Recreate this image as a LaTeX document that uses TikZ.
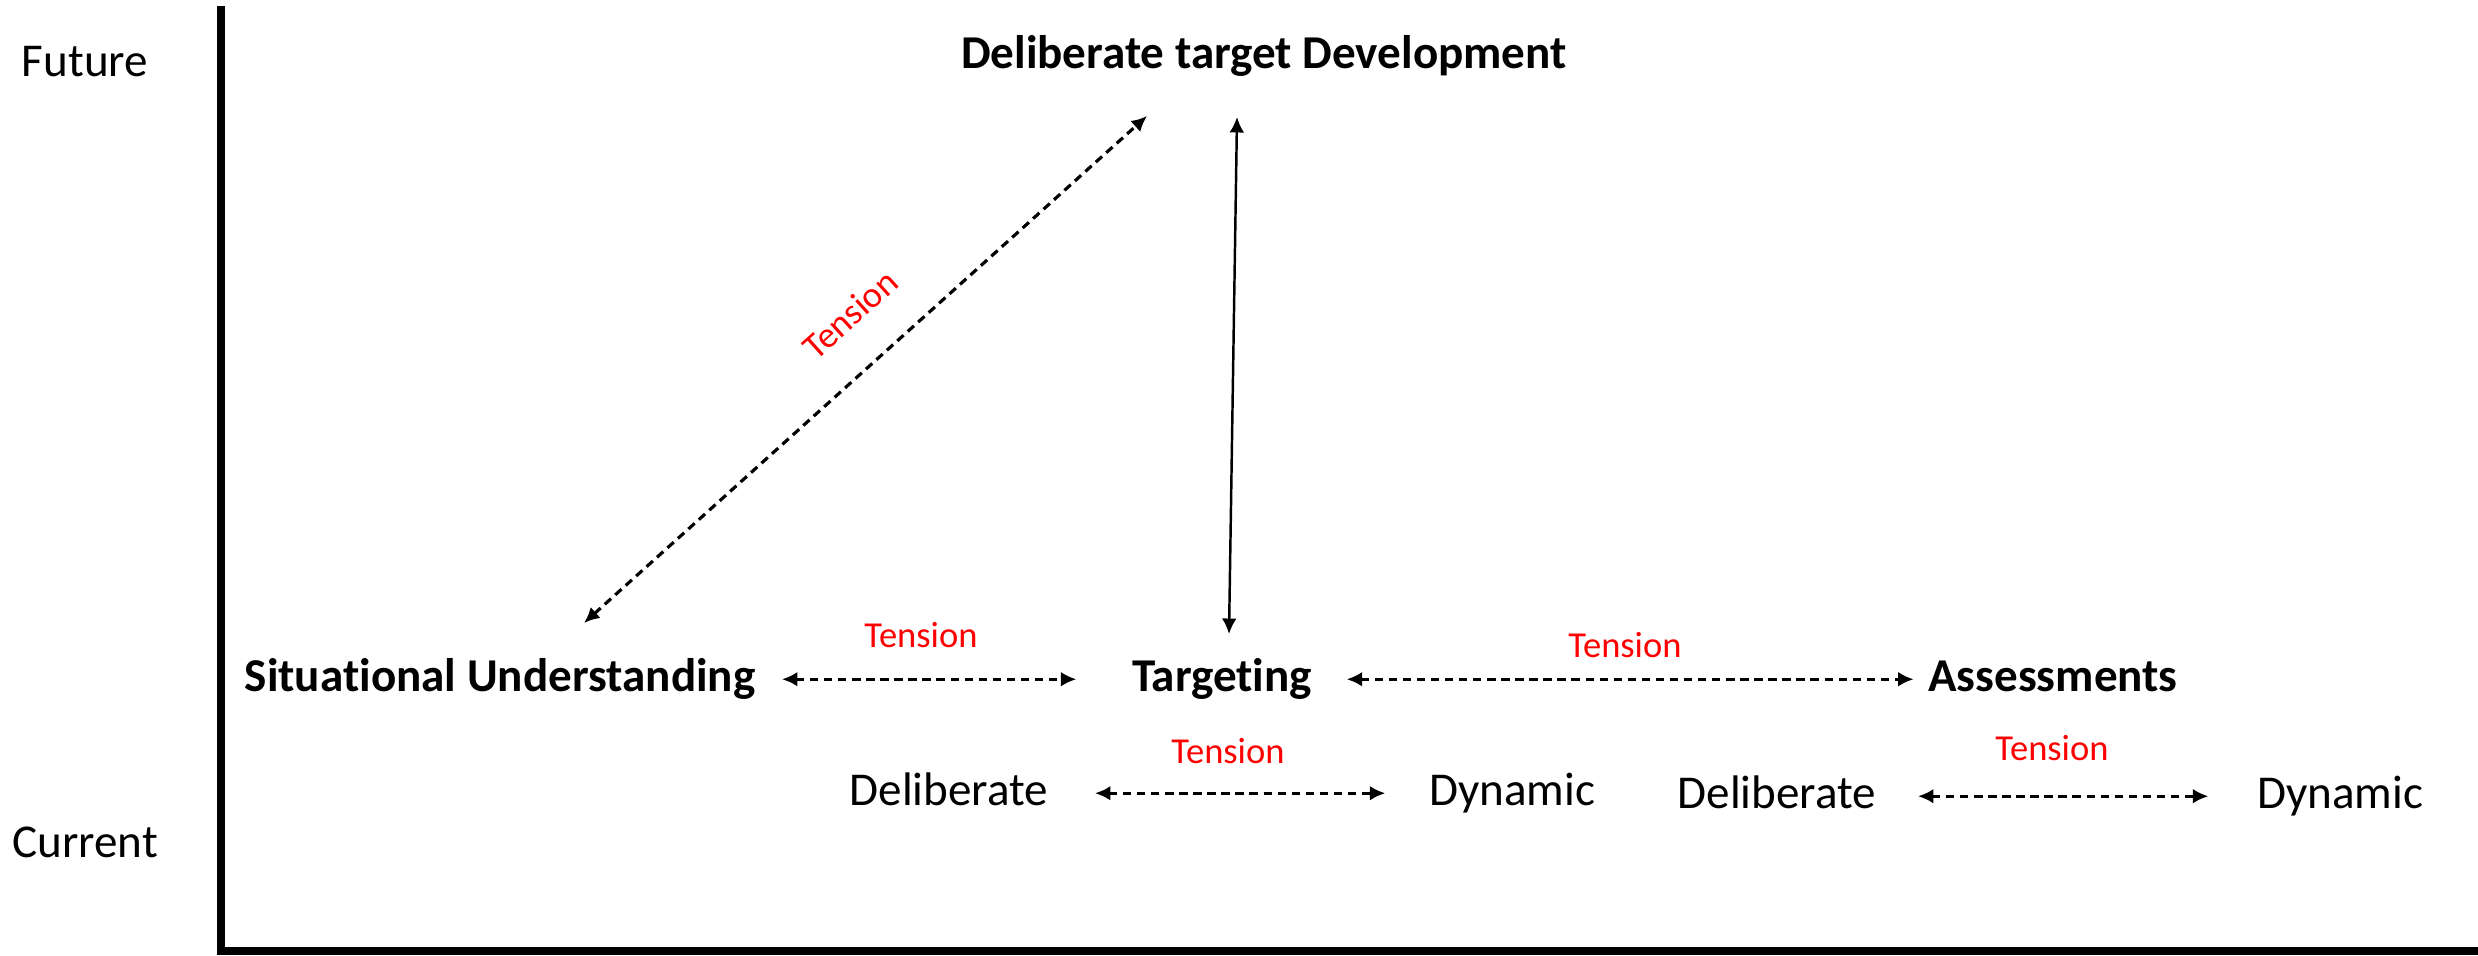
\documentclass[tikz,border=0pt]{standalone}
\usepackage{fontspec}
\setmainfont{Carlito}[Ligatures=NoCommon]
\usetikzlibrary{arrows.meta}

\tikzset{
  timelbl/.style={font=\fontsize{13.4}{16}\selectfont, inner sep=0pt, anchor=base},
  stagelbl/.style={font=\fontsize{13.4}{16}\selectfont\bfseries, inner sep=0pt,
    text height=9.4pt, text depth=2.7pt, anchor=base},
  kindlbl/.style={font=\fontsize{13.4}{16}\selectfont, inner sep=0pt,
    text height=9.4pt, text depth=2.7pt, anchor=base},
  tensionlbl/.style={font=\fontsize{10.4}{12}\selectfont, text=red, inner sep=0pt, anchor=base},
  tensionarr/.style={<->, dash pattern=on 2.4pt off 1.6pt, line width=0.9pt},
}

\begin{document}
\begin{tikzpicture}[>={Latex[length=4.4pt,width=4.2pt]}]
    \useasboundingbox (0,0) rectangle (24.78,-9.56);

    % draw the time axis
    \draw[line width=0.08cm] (2.21,-0.06) -- (2.21,-9.51) -- (24.78,-9.51);
    \node[timelbl] (future) at (0.85,-0.77) {Future};
    \node[timelbl] (current) at (0.85,-8.57) {Current};

    % the stages
    \node[stagelbl] (dtd) at (12.64,-0.69) {Deliberate target Development};
    \node[stagelbl] (su) at (5.00,-6.91) {Situational Understanding};
    \node[stagelbl] (tgt) at (12.22,-6.91) {Targeting};
    \node[stagelbl] (assess) at (20.53,-6.91) {Assessments};

    % deliberate vs dynamic
    \node[kindlbl] (delibA) at (9.49,-8.05) {Deliberate};
    \node[kindlbl] (dynA) at (15.12,-8.05) {Dynamic};
    \node[kindlbl] (delibB) at (17.77,-8.08) {Deliberate};
    \node[kindlbl] (dynB) at (23.40,-8.08) {Dynamic};

    % arrow ends
    \coordinate (suTip) at (5.84,-6.23);
    \coordinate (dtdTip) at (11.47,-1.16);
    \coordinate (dtdFoot) at (12.37,-1.17);
    \coordinate (tgtHead) at (12.29,-6.34);

    % tensions
    \draw[tensionarr] (suTip) -- (dtdTip);
    \draw[<->, line width=0.7pt] (dtdFoot) -- (tgtHead);
    \draw[tensionarr, shorten <=0.26cm, shorten >=0.55cm] (su.east) -- (tgt.west);
    \draw[tensionarr, shorten <=0.34cm, shorten >=0.14cm] (tgt.east) -- (assess.west);
    \draw[tensionarr, shorten <=0.46cm, shorten >=0.43cm] (delibA.east) -- (dynA.west);
    \draw[tensionarr, shorten <=0.41cm, shorten >=0.48cm] (delibB.east) -- (dynB.west);

    % text on the arrows
    \node[tensionlbl, anchor=center, rotate=42] (tDiag) at (8.50,-3.14) {Tension};
    \node[tensionlbl] (tSuTgt) at (9.21,-6.47) {Tension};
    \node[tensionlbl] (tTgtAs) at (16.25,-6.57) {Tension};
    \node[tensionlbl] (tDynA) at (12.28,-7.63) {Tension};
    \node[tensionlbl] (tDynB) at (20.52,-7.60) {Tension};
\end{tikzpicture}
\end{document}
